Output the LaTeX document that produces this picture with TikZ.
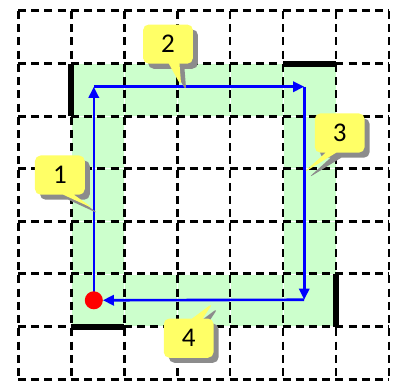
\documentclass[tikz,border=0pt]{standalone}
\usepackage{fontspec}
\setmainfont{Carlito}
\usetikzlibrary{positioning, arrows.meta, shapes.callouts, shadows}
\definecolor{verdeclaro}{HTML}{CCFFCC}
\definecolor{amarillo}{HTML}{FFFF66}
\definecolor{azul}{HTML}{0000FF}
\definecolor{sombra}{HTML}{8C8C8C}

\begin{document}
\begin{tikzpicture}[x=1cm, y=-0.9925cm,
				celda/.style={fill=verdeclaro, draw=white, line width=0.5pt},
				rejilla/.style={line width=1.6pt, dash pattern=on 4.3pt off 2.8pt},
				muro/.style={line width=3.2pt},
				flecha/.style={azul, line width=1.4pt, -{Triangle[length=6pt, width=5.5pt]}},
				globo/.style={rectangle callout, rounded corners=3pt, fill=amarillo, minimum width=0.94cm, minimum height=0.74cm, inner sep=0pt, callout pointer width=0.2cm, font=\fontsize{14.5}{16}\selectfont, drop shadow={shadow xshift=2.7pt, shadow yshift=-2.7pt, fill=sombra, opacity=1}}]
				\useasboundingbox (-0.34,-0.209) rectangle (7.17,7.034);
				% anillo de celdas
				\foreach \i in {1,...,5}{
					\draw[celda] (\i,1) rectangle ++(1,1);
					\draw[celda] (\i,5) rectangle ++(1,1);
					\draw[celda] (1,\i) rectangle ++(1,1);
					\draw[celda] (5,\i) rectangle ++(1,1);
				}
				% rejilla
				\foreach \k in {0,...,7}{
					\draw[rejilla] (\k,0) -- (\k,7);
					\draw[rejilla] (0,\k) -- (7,\k);
				}
				\draw[muro] (1,1) -- (1,2);
				\draw[muro] (5,1) -- (6,1);
				\draw[muro] (6,5) -- (6,6);
				\draw[muro] (1,6) -- (2,6);
				% recorrido
				\coordinate (inicio) at (1.43,5.5);
				\coordinate (esq1) at (1.43,1.44);
				\coordinate (esq2) at (5.40,1.44);
				\coordinate (esq3) at (5.40,5.49);
				\draw[flecha] (inicio) -- (esq1);
				\draw[flecha] (esq1) -- (esq2);
				\draw[flecha] (esq2) -- (esq3);
				\draw[flecha, shorten >=0.17cm] (esq3) -- (inicio);
				\node[circle, fill=red, minimum size=0.34cm, inner sep=0pt] (punto) at (inicio) {};
				% globos
				\coordinate (p1) at (1.43,3.76);
				\coordinate (p2) at (3.08,1.43);
				\coordinate (p3) at (5.38,3.08);
				\coordinate (p4) at (3.68,5.55);
				\node[globo, callout absolute pointer={(p1)}] (g1) at (0.79,3.12) {1};
				\node[globo, callout absolute pointer={(p2)}] (g2) at (2.83,0.63) {2};
				\node[globo, callout absolute pointer={(p3)}] (g3) at (6.07,2.32) {3};
				\node[globo, callout absolute pointer={(p4)}] (g4) at (3.22,6.22) {4};
			\end{tikzpicture}
\end{document}
